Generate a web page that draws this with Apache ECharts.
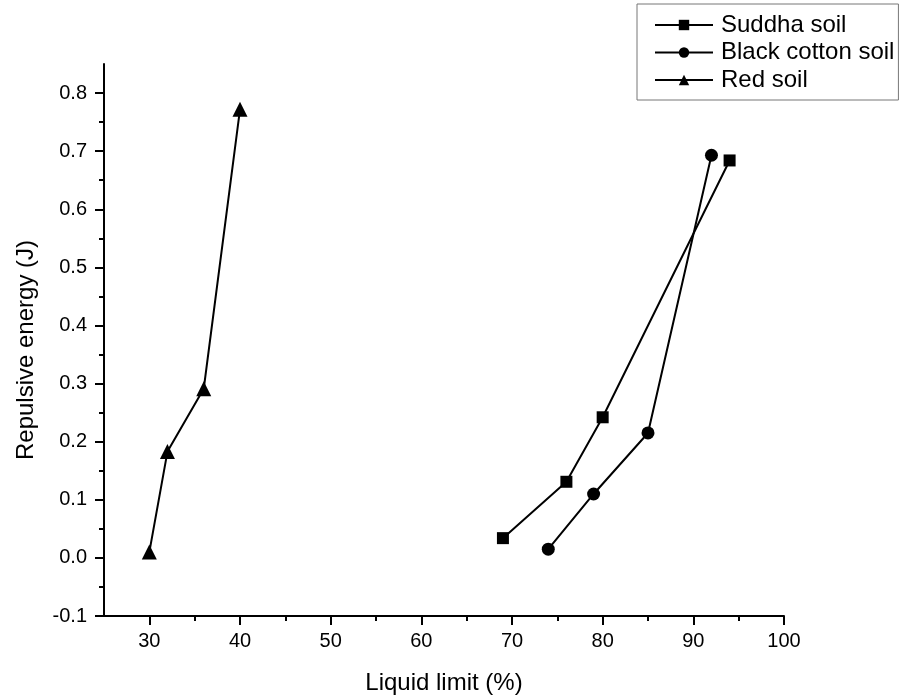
<!DOCTYPE html>
<html>
<head>
<meta charset="utf-8">
<script src="https://cdn.jsdelivr.net/npm/echarts@6/dist/echarts.min.js"></script>
<style>
  html, body { margin: 0; padding: 0; background: #fff; }
  #chart { width: 905px; height: 700px; }
</style>
</head>
<body>
<div id="chart"></div>
<script>
// values
const suddhaX = [69, 76, 80, 94];
const suddhaY = [0.034, 0.131, 0.242, 0.684];
const blackX = [74, 79, 85, 92];
const blackY = [0.015, 0.110, 0.215, 0.693];
const redX = [30, 32, 36, 40];
const redY = [0.010, 0.183, 0.291, 0.772];

const xTicks = [30, 40, 50, 60, 70, 80, 90, 100];
const xMinorTicks = [35, 45, 55, 65, 75, 85, 95];
const yTicks = [-0.1, 0, 0.1, 0.2, 0.3, 0.4, 0.5, 0.6, 0.7, 0.8];
const yMinorTicks = [-0.05, 0.05, 0.15, 0.25, 0.35, 0.45, 0.55, 0.65, 0.75];

const font = "Liberation Sans";
const pairs = (xs, ys) => xs.map((x, i) => [x, ys[i]]);

const axisLine = { show: true, onZero: false, lineStyle: { color: "#000", width: 2 } };
const hiddenLine = { show: false, onZero: false };

const baseX = { type: "value", min: 25, max: 100, position: "bottom", splitLine: { show: false } };
const baseY = { type: "value", min: -0.1, max: 0.85, position: "left", splitLine: { show: false } };

const lineSeries = (name, data, symbol, size) => ({
  name,
  type: "line",
  data,
  symbol,
  symbolSize: size,
  clip: false,
  lineStyle: { color: "#000", width: 2 },
  itemStyle: { color: "#000" },
});

const option = {
  backgroundColor: "#fff",
  animation: false,
  grid: { left: 104, right: 121, top: 64, bottom: 84 },
  legend: {
    orient: "vertical",
    left: 637,
    top: 4,
    padding: [9, 4, 8, 17],
    itemGap: 3.5,
    itemWidth: 58,
    itemHeight: 13,
    borderColor: "#777",
    borderWidth: 1,
    textStyle: { fontFamily: font, fontSize: 24, lineHeight: 24, color: "#000", padding: [0, 0, 0, 3] },
    data: ["Suddha soil", "Black cotton soil", "Red soil"],
  },
  xAxis: [
    {
      ...baseX,
      name: "Liquid limit (%)",
      nameLocation: "middle",
      nameGap: 55,
      nameTextStyle: { fontFamily: font, fontSize: 24, color: "#000" },
      axisLine,
      axisTick: { show: true, length: 9, customValues: xTicks, lineStyle: { color: "#000", width: 2 } },
      axisLabel: { customValues: xTicks, margin: 15, fontFamily: font, fontSize: 20, color: "#000" },
    },
    {
      ...baseX,
      axisLine: hiddenLine,
      axisTick: { show: true, length: 5, customValues: xMinorTicks, lineStyle: { color: "#000", width: 2 } },
      axisLabel: { show: false },
    },
  ],
  yAxis: [
    {
      ...baseY,
      name: "Repulsive energy (J)",
      nameLocation: "middle",
      nameGap: 66,
      nameTextStyle: { fontFamily: font, fontSize: 24, color: "#000", padding: [0, 20, 0, 0] },
      axisLine,
      axisTick: { show: true, length: 9, customValues: yTicks, lineStyle: { color: "#000", width: 2 } },
      axisLabel: {
        customValues: yTicks,
        margin: 17,
        fontFamily: font,
        fontSize: 20,
        color: "#000",
        formatter: (v) => v.toFixed(1),
      },
    },
    {
      ...baseY,
      axisLine: hiddenLine,
      axisTick: { show: true, length: 5, customValues: yMinorTicks, lineStyle: { color: "#000", width: 2 } },
      axisLabel: { show: false },
    },
  ],
  series: [
    lineSeries("Suddha soil", pairs(suddhaX, suddhaY), "rect", 12),
    lineSeries("Black cotton soil", pairs(blackX, blackY), "circle", 13),
    lineSeries("Red soil", pairs(redX, redY), "triangle", 15),
  ],
};

const chart = echarts.init(document.getElementById("chart"));
chart.setOption(option);
</script>
</body>
</html>
